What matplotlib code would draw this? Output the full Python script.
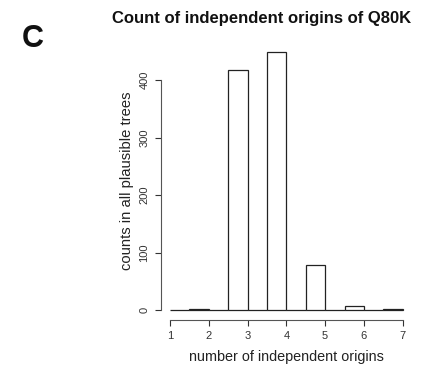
import matplotlib
matplotlib.use('Agg')
import matplotlib.pyplot as plt

plt.rcParams['font.family'] = ['Liberation Sans', 'DejaVu Sans']

# histogram bins (half-unit breaks) and their counts
breaks = [1.0, 1.5, 2.0, 2.5, 3.0, 3.5, 4.0, 4.5, 5.0, 5.5, 6.0, 6.5, 7.0]
counts = [0, 2, 0, 417, 0, 448, 0, 78, 0, 7, 0, 1]
x_ticks = [1, 2, 3, 4, 5, 6, 7]
y_ticks = [0, 100, 200, 300, 400]

fig = plt.figure(figsize=(4.21, 3.68), dpi=100)
ax = fig.add_axes([0.3817, 0.1296, 0.597, 0.756])

lefts = breaks[:-1]
widths = [b - a for a, b in zip(breaks[:-1], breaks[1:])]
ax.bar(lefts, counts, width=widths, align='edge', facecolor='white',
       edgecolor='#222222', linewidth=0.9)

ax.set_xlim(0.76, 7.24)
ax.set_ylim(-17.9, 466)

for s in ['top', 'right']:
    ax.spines[s].set_visible(False)
ax.spines['left'].set_bounds(0, 400)
ax.spines['bottom'].set_bounds(1, 7)
for s in ['left', 'bottom']:
    ax.spines[s].set_color('#555555')
    ax.spines[s].set_linewidth(0.8)

ax.set_xticks(x_ticks)
ax.set_yticks(y_ticks)
ax.set_yticklabels([str(v) for v in y_ticks], rotation=90, va='center')
ax.tick_params(axis='both', labelsize=8, colors='#333333', length=4, width=0.8,
               direction='out')
ax.tick_params(axis='y', pad=4)

ax.set_xlabel('number of independent origins', fontsize=10.4, color='#222222', labelpad=7)
ax.set_ylabel('counts in all plausible trees', fontsize=10.6, color='#222222', labelpad=4)

fig.text(0.621, 0.951, 'Count of independent origins of Q80K', ha='center', va='center',
         fontsize=12, fontweight='bold', color='#111111')
fig.text(0.078, 0.894, 'C', ha='center', va='center', fontsize=22, fontweight='bold',
         color='#111111')

fig.savefig('out.png', dpi=100)
